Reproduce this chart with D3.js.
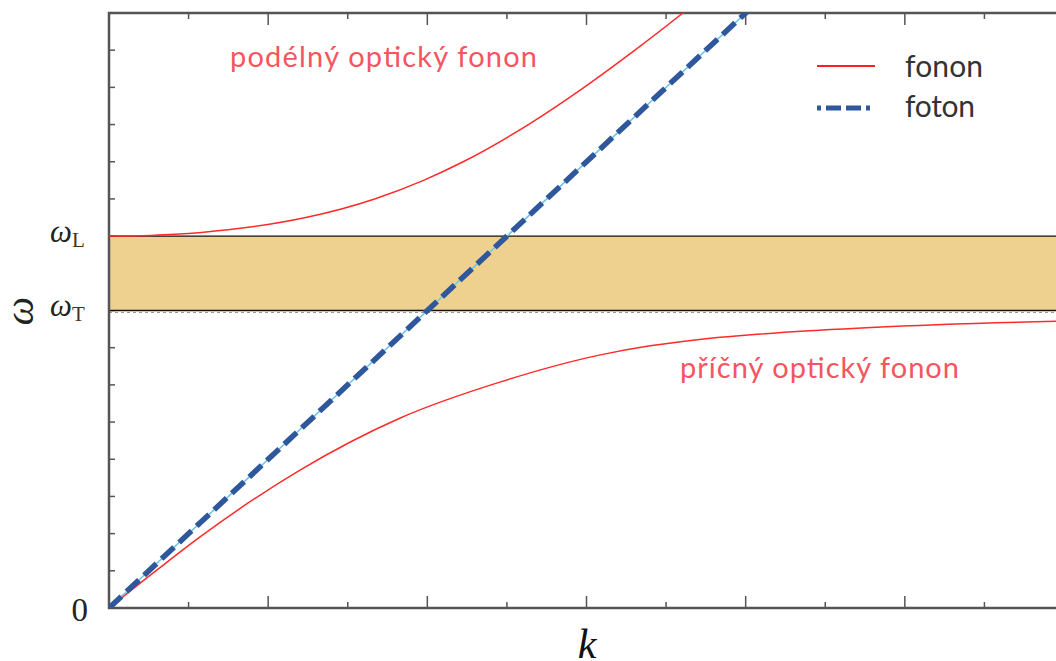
<!DOCTYPE html>
<html lang="cs">
<head>
    <meta charset="UTF-8">
    <title>Fonon-polariton</title>
    <script src="https://d3js.org/d3.v7.min.js"></script>
    <style>
        body { margin: 0; padding: 0; background: white; }
        svg { display: block; }
    </style>
</head>
<body>
    <svg width="1056" height="661"></svg>
    <script>
        // values: [k, omega]
        const upperBranch = [
            [0, 10], [0.263, 10.02], [0.414, 10.05], [0.581, 10.1], [0.9, 10.25], [1.236, 10.5],
            [1.669, 11], [1.976, 11.5], [2.225, 12], [2.635, 13], [2.985, 14], [3.304, 15],
            [3.606, 16], [3.895, 17]
        ];
        const lowerBranch = [
            [0, 0], [0.31, 1.05], [0.572, 1.91], [1.2, 3.71], [1.83, 5.11], [2.46, 6.08],
            [3.08, 6.8], [3.4, 7.05], [3.71, 7.22], [4.46, 7.47], [5.2, 7.62],
            [5.95, 7.71], [6.2, 7.73]
        ];
        const photonLine = [[0, 0], [4.1, 16.4]];
        const omegaT = 8;
        const omegaL = 10;
        const xTicks = d3.range(0.5, 6.01, 0.5);
        const yTicks = d3.range(1, 16, 1);

        const svg = d3.select("svg");
        const plotLeft = 109, plotBottom = 608, plotTop = 13, plotRight = 1064;

        const x = d3.scaleLinear().domain([0, 6]).range([plotLeft, plotRight]);
        const y = d3.scaleLinear().domain([0, 16]).range([plotBottom, plotTop]);

        svg.append("defs").append("clipPath").attr("id", "plot")
            .append("rect")
            .attr("x", plotLeft).attr("y", plotTop)
            .attr("width", plotRight - plotLeft).attr("height", plotBottom - plotTop);

        const frameColor = "#555";

        // ticks (inward)
        const tickG = svg.append("g").attr("stroke", frameColor).attr("stroke-width", 1.5);
        tickG.selectAll(".yt").data(yTicks).join("line")
            .attr("x1", plotLeft).attr("x2", plotLeft + 6)
            .attr("y1", d => y(d)).attr("y2", d => y(d));
        tickG.selectAll(".xb").data(xTicks).join("line")
            .attr("x1", d => x(d)).attr("x2", d => x(d))
            .attr("y1", plotBottom).attr("y2", d => plotBottom - (d % 1 === 0 ? 12 : 6));
        tickG.selectAll(".xt").data(xTicks).join("line")
            .attr("x1", d => x(d)).attr("x2", d => x(d))
            .attr("y1", plotTop).attr("y2", d => plotTop + (d % 1 === 0 ? 12 : 6));

        // band between omegaT and omegaL
        svg.append("rect")
            .attr("x", plotLeft).attr("y", y(omegaL))
            .attr("width", plotRight - plotLeft).attr("height", y(omegaT) - y(omegaL))
            .attr("fill", "#efd18f");
        svg.append("line")
            .attr("x1", plotLeft).attr("x2", plotRight)
            .attr("y1", y(omegaT) + 2).attr("y2", y(omegaT) + 2)
            .attr("stroke", "#999").attr("stroke-width", 1)
            .attr("stroke-dasharray", "3,3");
        [omegaL, omegaT].forEach(v => {
            svg.append("line")
                .attr("x1", plotLeft).attr("x2", plotRight)
                .attr("y1", y(v)).attr("y2", y(v))
                .attr("stroke", "#111").attr("stroke-width", 1.3);
        });

        // frame
        svg.append("path")
            .attr("d", `M${plotRight},${plotTop}H${plotLeft}V${plotBottom}H${plotRight}`)
            .attr("fill", "none").attr("stroke", frameColor).attr("stroke-width", 2.5);

        const line = d3.line().x(d => x(d[0])).y(d => y(d[1])).curve(d3.curveMonotoneX);
        const plot = svg.append("g").attr("clip-path", "url(#plot)");

        [upperBranch, lowerBranch].forEach(b => {
            plot.append("path").datum(b)
                .attr("d", line)
                .attr("fill", "none").attr("stroke", "#ff2a2a").attr("stroke-width", 1.5);
        });

        plot.append("path").datum(photonLine)
            .attr("d", d3.line().x(d => x(d[0])).y(d => y(d[1])))
            .attr("fill", "none").attr("stroke", "#6cc5e6").attr("stroke-width", 1.5);
        plot.append("path").datum(photonLine)
            .attr("d", d3.line().x(d => x(d[0])).y(d => y(d[1])))
            .attr("fill", "none").attr("stroke", "#2f579c").attr("stroke-width", 5.5)
            .attr("stroke-dasharray", "17,7");

        // curve labels
        const labelFont = "Lato, 'Open Sans', sans-serif";
        svg.append("text").attr("x", 230).attr("y", 67)
            .attr("font-family", labelFont).attr("font-size", 29).attr("fill", "#f5555f")
            .attr("textLength", 307).attr("lengthAdjust", "spacing")
            .text("podélný optický fonon");
        svg.append("text").attr("x", 680).attr("y", 378)
            .attr("font-family", labelFont).attr("font-size", 29).attr("fill", "#f5555f")
            .attr("textLength", 279).attr("lengthAdjust", "spacing")
            .text("příčný optický fonon");

        // legend
        const legend = svg.append("g");
        legend.append("line").attr("x1", 817).attr("x2", 875).attr("y1", 66).attr("y2", 66)
            .attr("stroke", "#ff2020").attr("stroke-width", 2);
        legend.append("line").attr("x1", 817).attr("x2", 875).attr("y1", 108).attr("y2", 108)
            .attr("stroke", "#2f579c").attr("stroke-width", 5)
            .attr("stroke-dasharray", "4,5,15,5,15,5");
        legend.append("text").attr("x", 905).attr("y", 77)
            .attr("font-family", labelFont).attr("font-size", 30).attr("fill", "#333")
            .attr("textLength", 78).attr("lengthAdjust", "spacing")
            .text("fonon");
        legend.append("text").attr("x", 905).attr("y", 117)
            .attr("font-family", labelFont).attr("font-size", 30).attr("fill", "#333")
            .attr("textLength", 70).attr("lengthAdjust", "spacing")
            .text("foton");

        // axis labels
        const serif = "'Liberation Serif', 'DejaVu Serif', serif";
        svg.append("text").attr("x", 88).attr("y", 621)
            .attr("text-anchor", "end")
            .attr("font-family", serif).attr("font-size", 33).attr("fill", "#222")
            .text("0");
        [[omegaL, "L", 242], [omegaT, "T", 316]].forEach(([v, s, base]) => {
            const t = svg.append("text").attr("x", 50).attr("y", base)
                .attr("font-family", serif).attr("font-size", 31).attr("fill", "#222");
            t.append("tspan").attr("font-style", "italic").text("ω");
            t.append("tspan").attr("dy", 5).attr("font-size", 21).attr("fill", "#4a3015").text(s);
        });
        svg.append("text")
            .attr("transform", `translate(33, 311) rotate(-90)`)
            .attr("text-anchor", "middle")
            .attr("font-family", serif).attr("font-style", "italic")
            .attr("font-size", 40).attr("fill", "#222")
            .text("ω");
        svg.append("text").attr("x", 587).attr("y", 658)
            .attr("text-anchor", "middle")
            .attr("font-family", serif).attr("font-style", "italic")
            .attr("font-size", 42).attr("fill", "#111")
            .text("k");
    </script>
</body>
</html>
